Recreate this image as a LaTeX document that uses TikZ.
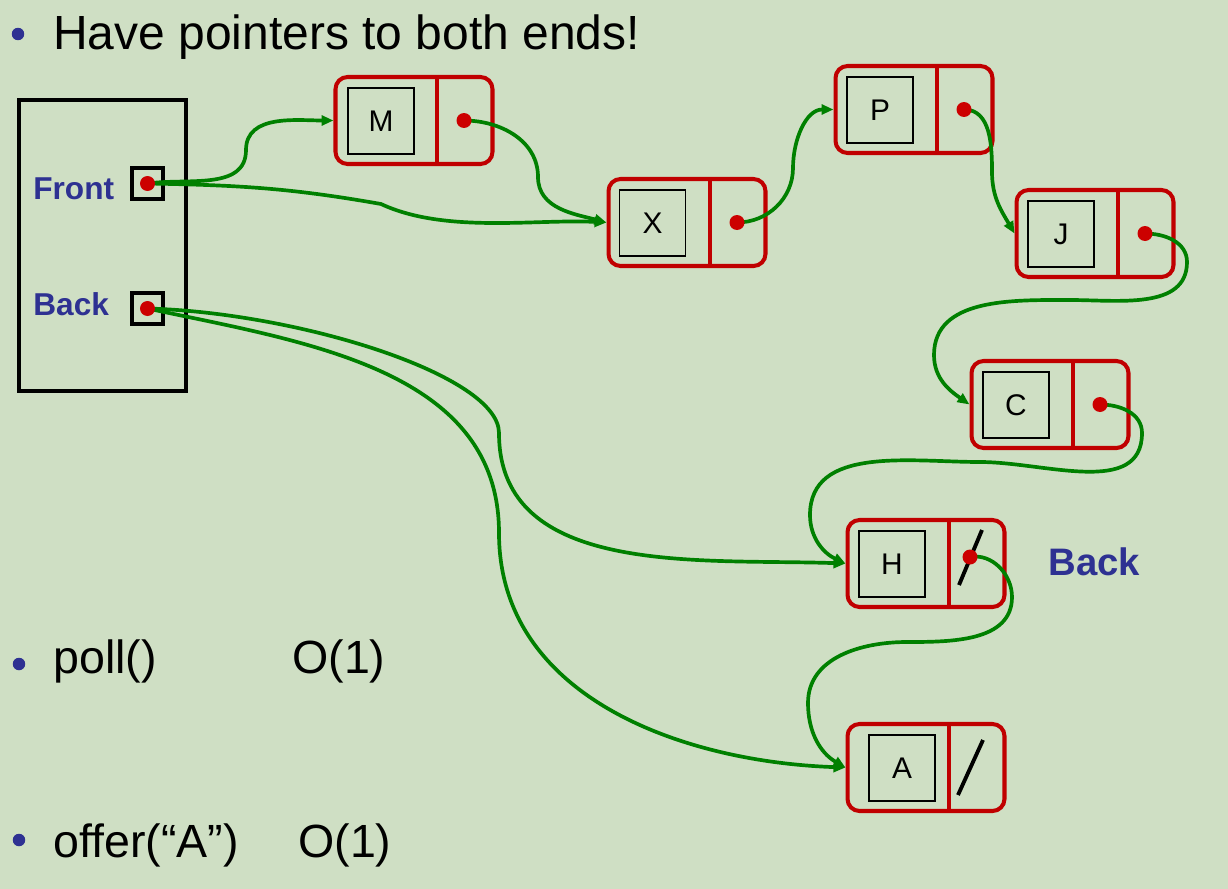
\documentclass[tikz,border=0pt]{standalone}
\usepackage{fontspec}
\setmainfont{Liberation Sans}
\usetikzlibrary{arrows.meta}
\definecolor{bg}{RGB}{207,223,196}
\definecolor{nodered}{RGB}{192,0,0}
\definecolor{dotred}{RGB}{204,0,0}
\definecolor{linkgreen}{RGB}{0,128,0}
\definecolor{txtblue}{RGB}{46,49,146}
\newcommand{\listnode}[4]{%
  \node[outerbox] (#1) at (#2+80,#3+45.5) {};
  \draw[divider] (#2+103,#3+2) -- (#2+103,#3+89);
  \coordinate (#1p) at (#2+130,#3+45.5);
}
\begin{document}
\begin{tikzpicture}[x=0.02cm,y=-0.02cm,
  outerbox/.style={draw=nodered,line width=2.3pt,rounded corners=0.24cm,minimum width=3.14cm,minimum height=1.74cm,inner sep=0pt},
  valbox/.style={draw=black,line width=1pt,minimum size=1.32cm,inner sep=0pt,font=\fontsize{17}{17}\selectfont},
  divider/.style={draw=nodered,line width=2.3pt},
  ptr/.style={circle,fill=dotred,minimum size=0.3cm,inner sep=0pt},
  link/.style={draw=linkgreen,line width=2.1pt,-{Triangle[length=2.4mm,width=2mm]}},
  nullslash/.style={draw=black,line width=2.2pt},
  holder/.style={draw=black,line width=2.3pt,minimum size=0.62cm,inner sep=0pt},
  lbl/.style={text=txtblue,font=\bfseries\fontsize{18}{18}\selectfont,anchor=base west,inner sep=0pt},
  bullettext/.style={font=\fontsize{26.5}{26.5}\selectfont,anchor=base west,inner sep=0pt},
  bulletdot/.style={circle,fill=txtblue,minimum size=0.25cm,inner sep=0pt},
]
\fill[bg] (0,0) rectangle (1228,889);
\useasboundingbox (0,0) rectangle (1228,889);

% title and bullets
\node[bulletdot] (b1) at (18,34) {};
\node[bullettext,font=\fontsize{27.3}{27.3}\selectfont] (t1) at (53,50) {Have pointers to both ends!};
\node[bulletdot] (b2) at (19,664) {};
\node[bullettext] (t2) at (53,673) {poll()};
\node[bullettext] (t3) at (292,673) {O(1)};
\node[bulletdot] (b3) at (19,840) {};
\node[bullettext] (t4) at (53,857) {offer(“A”)};
\node[bullettext] (t5) at (298,857) {O(1)};

% queue holder
\node[draw=black,line width=2.3pt,minimum width=3.34cm,minimum height=5.82cm,inner sep=0pt] (Q) at (102.5,245.5) {};
\node[holder] (Fbox) at (147.5,183.5) {};
\node[holder] (Bbox) at (147.5,308.5) {};
\node[lbl] (Flbl) at (33,199) {Front};
\node[lbl] (Blbl) at (33,315) {Back};
\coordinate (Fp) at (Fbox.center);
\coordinate (Bp) at (Bbox.center);

% list nodes
\listnode{M}{334}{75}{}
\node[valbox] (Mv) at (381,121) {M};
\listnode{X}{607}{177}{}
\node[valbox] (Xv) at (652.5,223) {X};
\listnode{P}{834}{64}{}
\node[valbox] (Pv) at (880,110) {P};
\listnode{J}{1015}{188}{}
\node[valbox] (Jv) at (1061,234) {J};
\listnode{C}{970}{359}{}
\node[valbox] (Cv) at (1016,405) {C};
\listnode{H}{846}{518}{}
\node[valbox] (Hv) at (892,564) {H};
\listnode{A}{846}{722}{}
\node[valbox] (Av) at (902,768) {A};
\coordinate (Hq) at (970,557);

\draw[nullslash] (959,585) -- (982,530);
\draw[nullslash] (958,795) -- (983,740);

\node[text=txtblue,font=\bfseries\fontsize{21.8}{21.8}\selectfont,anchor=base west,inner sep=0pt] (backlbl) at (1048,575) {Back};

% bend points
\coordinate (fm) at (246,150);
\coordinate (fx) at (381,204);
\coordinate (mx) at (538,177);
\coordinate (xp) at (793,168);
\coordinate (pj) at (992,172);
\coordinate (jc1) at (1187,262);
\coordinate (jc2) at (1070,300);
\coordinate (jc3) at (934,355);
\coordinate (ch1) at (1142,433);
\coordinate (ch2) at (980,462);
\coordinate (ch3) at (810,515);
\coordinate (ha1) at (1012,597);
\coordinate (ha2) at (907,642);
\coordinate (ha3) at (808,703);
\coordinate (bh) at (499,433);
\coordinate (ba) at (499,533);

% connectors
\draw[link] (Fp) to[out=8,in=-90] (fm) to[out=90,in=180] (M.west);
\draw[link] (Fp) to[out=-1,in=170] (fx) to[out=-25,in=177,looseness=0.8] (X.west);
\draw[link] (Mp) to[out=0,in=90] (mx) to[out=-90,in=165] (X.west);
\draw[link] (Xp) to[out=0,in=-90] (xp) to[out=90,in=180] (P.west);
\draw[link] (Pp) to[out=0,in=90] (pj) to[out=-90,in=120] (J.west);
\draw[link] (Jp) to[out=0,in=90] (jc1) to[out=-90,in=0] (jc2) to[out=180,in=90] (jc3) to[out=-90,in=145] (C.west);
\draw[link] (Cp) to[out=0,in=90] (ch1) to[out=-90,in=0] (ch2) to[out=180,in=90] (ch3) to[out=-90,in=155] (H.west);
\draw[link] (Hq) to[out=10,in=90] (ha1) to[out=-90,in=0] (ha2) to[out=180,in=90] (ha3) to[out=-90,in=150] (A.west);
\draw[link] (Bp) .. controls +(150,4) and +(0,-58) .. (bh) to[out=-90,in=178] (H.west);
\draw[link] (Bp) to[out=-12,in=90] (ba) to[out=-90,in=178] (A.west);

% pointer dots on top
\node[ptr] (Fdot) at (Fp) {};
\node[ptr] (Bdot) at (Bp) {};
\node[ptr] (Mdot) at (Mp) {};
\node[ptr] (Xdot) at (Xp) {};
\node[ptr] (Pdot) at (Pp) {};
\node[ptr] (Jdot) at (Jp) {};
\node[ptr] (Cdot) at (Cp) {};
\node[ptr] (Hdot) at (Hq) {};
\end{tikzpicture}
\end{document}
